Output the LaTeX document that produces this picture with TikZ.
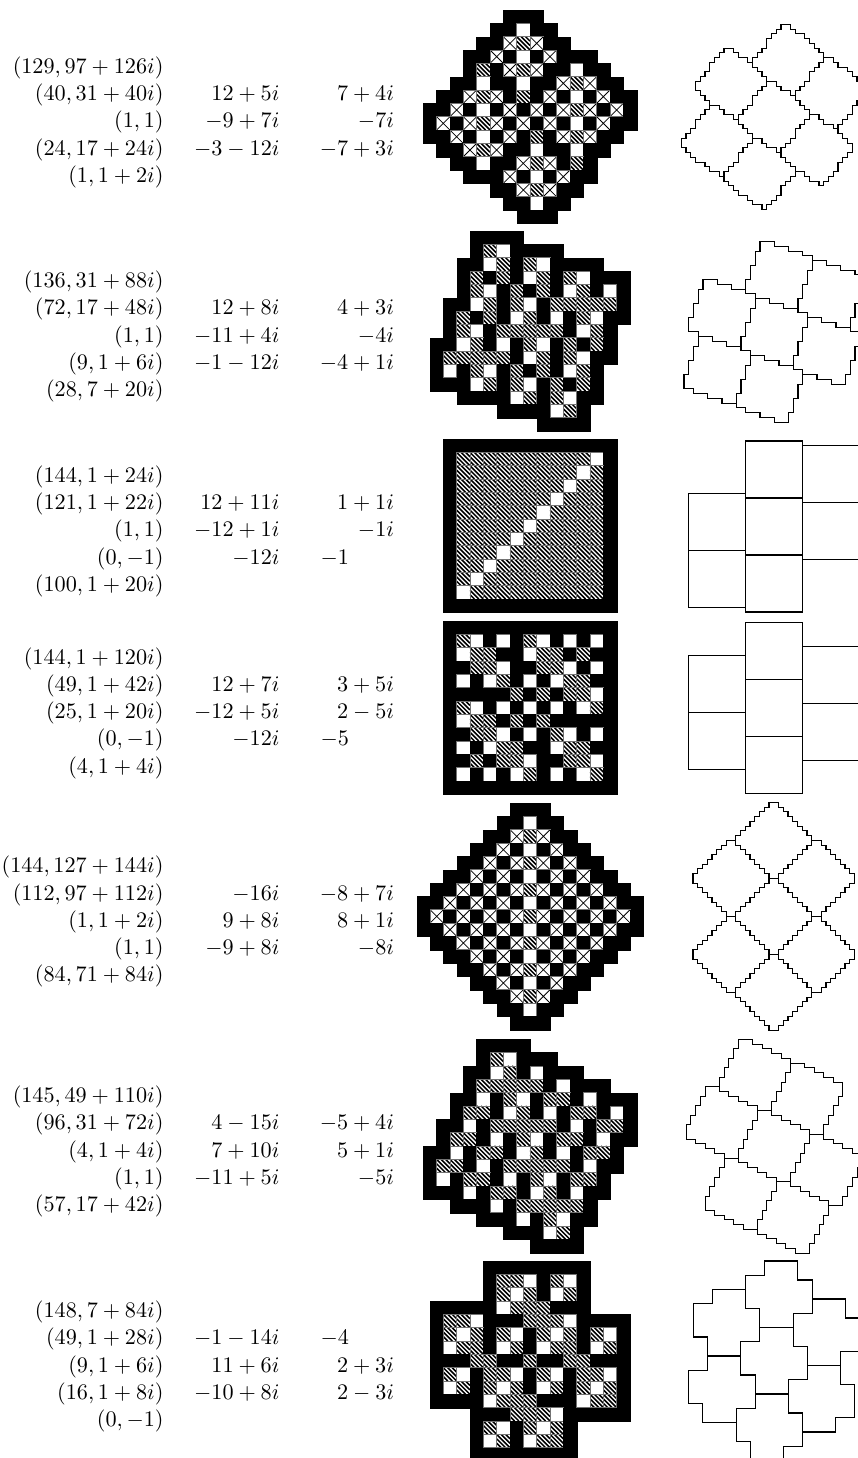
\documentclass[tikz,border=0pt]{standalone}
\tikzset{
  pagebox/.style={x=1pt,y=-1pt},
  lab/.style={scale=2.22,inner sep=0pt,outer sep=0pt},
  blackcell/.style={fill=black,draw=black,line width=.3pt},
  whitecell/.style={fill=white},
  cellrim/.style={draw=black!55,line width=.7pt},
  hatchline/.style={line width=1.55pt,black},
  crossline/.style={line width=.75pt,black}
}
% ---------- grid cells
\newcount\cx
\expandafter\let\csname cello\endcsname\relax
\expandafter\def\csname cellb\endcsname{\path[blackcell] (\the\cx,\ri) rectangle ++(1,1);}
\expandafter\def\csname cellw\endcsname{\path[whitecell] (\the\cx,\ri) rectangle ++(1,1);
  \path[cellrim] (\the\cx,\ri) rectangle ++(1,1);}
\expandafter\def\csname cellh\endcsname{\begin{scope}[shift={(\the\cx,\ri)}]
  \path[whitecell] (0,0) rectangle (1,1);
  \begin{scope}\clip (0,0) rectangle (1,1);
  \draw[hatchline] (0,0)--(1,1) (.3333,0)--(1,.6667) (.6667,0)--(1,.3333)
     (0,.3333)--(.6667,1) (0,.6667)--(.3333,1);
  \end{scope}
  \path[cellrim] (0,0) rectangle (1,1);\end{scope}}
\expandafter\def\csname cellx\endcsname{\begin{scope}[shift={(\the\cx,\ri)}]
  \path[whitecell] (0,0) rectangle (1,1);
  \draw[crossline] (0,0)--(1,1) (1,0)--(0,1);
  \path[cellrim] (0,0) rectangle (1,1);\end{scope}}
\def\cellloop#1{\ifx#1;\else\csname cell#1\endcsname\advance\cx by 1 \expandafter\cellloop\fi}
\newcommand{\gridat}[3]{\begin{scope}[shift={(#1,#2)},x=13.335pt,y=-13.335pt]
  \foreach \rowstr [count=\ri from 0] in {#3}{\cx=0 \expandafter\cellloop\rowstr;}
  \end{scope}}
% ---------- tiles
\newdimen\tx \newdimen\ty
\def\mvR{\advance\tx by 4.75pt }
\def\mvL{\advance\tx by -4.75pt }
\def\mvD{\advance\ty by -4.75pt }
\def\mvU{\advance\ty by 4.75pt }
\def\wk#1{\ifx#1.\else\csname mv#1\endcsname\pgfpathlineto{\pgfqpoint{\tx}{\ty}}\expandafter\wk\fi}
\def\invc#1{\ifx#1RL\else\ifx#1LR\else\ifx#1UD\else\ifx#1DU\fi\fi\fi\fi}
\def\xrev#1{\ifx#1.\else\edef\myout{\invc#1\myout}\expandafter\xrev\fi}
\def\rvw#1{\edef\myout{}\xrev#1.}
\newcommand{\settile}[5]{\def\ax{#1}\def\ay{#2}\def\wordp{#3}\def\wordq{#4}\def\wordr{#5}%
  \rvw{#3}\let\wordpr\myout\rvw{#4}\let\wordqr\myout\rvw{#5}\let\wordrr\myout}
\newcommand{\tileat}[2]{\begin{pgfscope}\pgfsetlinewidth{1.05pt}%
  \tx=\dimexpr\ax pt+4.75pt*#1\relax \ty=\dimexpr-\ay pt-4.75pt*#2\relax
  \pgfpathmoveto{\pgfqpoint{\tx}{\ty}}%
  \expandafter\wk\wordp.\expandafter\wk\wordq.\expandafter\wk\wordr.%
  \expandafter\wk\wordpr.\expandafter\wk\wordqr.\expandafter\wk\wordrr.%
  \pgfpathclose\pgfusepath{stroke}\end{pgfscope}}
% ---------- labels
\newcommand{\labR}[4]{\node[lab,anchor=base east] (#1) at (#2,#3) {$#4$};}
\newcommand{\labL}[4]{\node[lab,anchor=base west] (#1) at (#2,#3) {$#4$};}
\def\colA{163.5}\def\colB{279.5}\def\colC{394}\def\colD{320.7}
\begin{document}
\begin{tikzpicture}[pagebox]
\useasboundingbox (0,0) rectangle (857,1458);
% ======= row 1
\gridat{423.3}{10}{oooooobbbooooooo,ooooobbwbboooooo,oooobbxhxbbooooo,ooobbxbwbxbbbooo,ooobhbxhxbbwbboo,oobbwbbwbbxhxbbo,obbxhxbhbxbwbxbb,bbxbwbxbxbxhxbxb,bxbxhxbxbxbwbxbb,bbxbwbxbhbxhxbbo,obbxhxbbwbbwbboo,oobbwbbxhxbhbooo,ooobbbxbwbxbbooo,ooooobbxhxbboooo,oooooobbwbbooooo,ooooooobbboooooo}
\settile{781}{24.3}{RRDRDRRDR}{DRDRDRD}{DLDLDLDDLDLDLD}
\tileat{0}{0}\tileat{9}{7}\tileat{-12}{5}\tileat{-3}{12}\tileat{6}{19}\tileat{-15}{17}\tileat{-6}{24}
\def\bs{73.2}
\labR{a1}{\colA}{\bs}{(129,97+126i)}
\labR{a2}{\colA}{\bs+27.3}{(40,31+40i)}
\labR{a3}{\colA}{\bs+54.6}{(1,1)}
\labR{a4}{\colA}{\bs+81.9}{(24,17+24i)}
\labR{a5}{\colA}{\bs+109.2}{(1,1+2i)}
\labR{a6}{\colB}{\bs+27.3}{12+5i}
\labR{a7}{\colB}{\bs+54.6}{-9+7i}
\labR{a8}{\colB}{\bs+81.9}{-3-12i}
\labR{a9}{\colC}{\bs+27.3}{7+4i}
\labR{a10}{\colC}{\bs+54.6}{-7i}
\labR{a11}{\colC}{\bs+81.9}{-7+3i}
% ======= row 2
\gridat{430}{231}{ooobbbboooooooo,ooobhwbbbbooooo,oobbwhbhwbbbboo,oobhbhbwhbhwbbb,oobhwbhbhbwhbwb,obbwhbhwbhhhhhb,obhbhbwhbwbhwbb,obhwbhhhhhbwhbo,bbwhbwbhwbhbhbo,bhhhhhbwhbhwbbo,bwbhwbhbhbwhboo,bbbwhbhwbhbhboo,oobbbbwhbhwbboo,ooooobbbbwhbooo,oooooooobbbbooo}
\settile{760}{241.7}{RRRDRRRDRRR}{DRRD}{DDLDDDLDDDLDD}
\tileat{0}{0}\tileat{-1}{12}\tileat{-2}{24}\tileat{11}{4}\tileat{10}{16}\tileat{-12}{8}\tileat{-13}{20}
\def\bs{287.4}
\labR{b1}{\colA}{\bs}{(136,31+88i)}
\labR{b2}{\colA}{\bs+27.3}{(72,17+48i)}
\labR{b3}{\colA}{\bs+54.6}{(1,1)}
\labR{b4}{\colA}{\bs+81.9}{(9,1+6i)}
\labR{b5}{\colA}{\bs+109.2}{(28,7+20i)}
\labR{b6}{\colB}{\bs+27.3}{12+8i}
\labR{b7}{\colB}{\bs+54.6}{-11+4i}
\labR{b8}{\colB}{\bs+81.9}{-1-12i}
\labR{b9}{\colC}{\bs+27.3}{4+3i}
\labR{b10}{\colC}{\bs+54.6}{-4i}
\labR{b11}{\colC}{\bs+81.9}{-4+1i}
% ======= row 3
\gridat{443.3}{439}{bbbbbbbbbbbbb,bhhhhhhhhhhwb,bhhhhhhhhhwhb,bhhhhhhhhwhhb,bhhhhhhhwhhhb,bhhhhhhwhhhhb,bhhhhhwhhhhhb,bhhhhwhhhhhhb,bhhhwhhhhhhhb,bhhwhhhhhhhhb,bhwhhhhhhhhhb,bwhhhhhhhhhhb,bbbbbbbbbbbbb}
\settile{745.3}{441}{RRRRRRRRRRRR}{}{DDDDDDDDDDDD}
\tileat{0}{0}\tileat{0}{12}\tileat{0}{24}\tileat{12}{1}\tileat{12}{13}\tileat{-12}{11}\tileat{-12}{23}
\def\bs{482.1}
\labR{c1}{\colA}{\bs}{(144,1+24i)}
\labR{c2}{\colA}{\bs+27.3}{(121,1+22i)}
\labR{c3}{\colA}{\bs+54.6}{(1,1)}
\labR{c4}{\colA}{\bs+81.9}{(0,-1)}
\labR{c5}{\colA}{\bs+109.2}{(100,1+20i)}
\labR{c6}{\colB}{\bs+27.3}{12+11i}
\labR{c7}{\colB}{\bs+54.6}{-12+1i}
\labR{c8}{\colB}{\bs+81.9}{-12i}
\labR{c9}{\colC}{\bs+27.3}{1+1i}
\labR{c10}{\colC}{\bs+54.6}{-1i}
\labL{c11}{\colD}{\bs+81.9}{-1}
% ======= row 4
\gridat{443.3}{621}{bbbbbbbbbbbbb,bhwbwbhwbwbwb,bwhhbbwhhbhbb,bbhhwbbhhwbwb,bwbwhbwbwhhbb,bbbbbhbhbhhwb,bhwbwbwbwbwhb,bwhhbhbhbbbbb,bbhhwbwbhwbwb,bwbwhhbbwhhbb,bbhbhhwbbhhwb,bwbwbwhbwbwhb,bbbbbbbbbbbbb}
\settile{745.3}{622.3}{RRRRRRRRRRRR}{}{DDDDDDDDDDDD}
\tileat{0}{0}\tileat{0}{12}\tileat{0}{24}\tileat{12}{5}\tileat{12}{17}\tileat{-12}{7}\tileat{-12}{19}
\def\bs{664}
\labR{d1}{\colA}{\bs}{(144,1+120i)}
\labR{d2}{\colA}{\bs+27.3}{(49,1+42i)}
\labR{d3}{\colA}{\bs+54.6}{(25,1+20i)}
\labR{d4}{\colA}{\bs+81.9}{(0,-1)}
\labR{d5}{\colA}{\bs+109.2}{(4,1+4i)}
\labR{d6}{\colB}{\bs+27.3}{12+7i}
\labR{d7}{\colB}{\bs+54.6}{-12+5i}
\labR{d8}{\colB}{\bs+81.9}{-12i}
\labR{d9}{\colC}{\bs+27.3}{3+5i}
\labR{d10}{\colC}{\bs+54.6}{2-5i}
\labL{d11}{\colD}{\bs+81.9}{-5}
% ======= row 5
\gridat{416.7}{803}{ooooooobbbooooooo,oooooobbwbboooooo,ooooobbxhxbbooooo,oooobbxbwbxbboooo,ooobbxbxhxbxbbooo,oobbxbxbwbxbxbboo,obbxbxbxhxbxbxbbo,bbxbxbxbwbxbxbxbb,bxbxbxbxhxbxbxbxb,bbxbxbxbwbxbxbxbb,obbxbxbxhxbxbxbbo,oobbxbxbwbxbxbboo,ooobbxbxhxbxbbooo,oooobbxbwbxbboooo,ooooobbxhxbbooooo,oooooobbwbboooooo,ooooooobbbooooooo}
\settile{769}{802.3}{RR}{DRDRDRDRDRDRDRD}{DLDLDLDLDLDLDLD}
\tileat{0}{0}\tileat{0}{16}\tileat{0}{32}\tileat{9}{8}\tileat{9}{24}\tileat{-9}{8}\tileat{-9}{24}
\def\bs{872.7}
\labR{e1}{\colA}{\bs}{(144,127+144i)}
\labR{e2}{\colA}{\bs+27.3}{(112,97+112i)}
\labR{e3}{\colA}{\bs+54.6}{(1,1+2i)}
\labR{e4}{\colA}{\bs+81.9}{(1,1)}
\labR{e5}{\colA}{\bs+109.2}{(84,71+84i)}
\labR{e6}{\colB}{\bs+27.3}{-16i}
\labR{e7}{\colB}{\bs+54.6}{9+8i}
\labR{e8}{\colB}{\bs+81.9}{-9+8i}
\labR{e9}{\colC}{\bs+27.3}{-8+7i}
\labR{e10}{\colC}{\bs+54.6}{8+1i}
\labR{e11}{\colC}{\bs+81.9}{-8i}
% ======= row 6
\gridat{423.3}{1039.3}{oooobbbboooooooo,oooobhwbbboooooo,ooobbwhbwbbboooo,ooobhhhhhbwbbboo,oobbwbhwbhhbwbbb,oobhhbwhbwbhhbwb,obbwbhhhhhbwbhhb,obhhbwbhwbhhbwbb,bbwbhhbwhbwbhhbo,bhhbwbhhhhhbwbbo,bwbhhbwbhwbhhboo,bbbwbhhbwhbwbboo,oobbbwbhhhhhbooo,oooobbbwbhwbbooo,oooooobbbwhboooo,oooooooobbbboooo}
\settile{738.3}{1039.3}{RRR}{DRRDRRDRRDRRD}{DDLDDLDDLDDLDD}
\tileat{0}{0}\tileat{4}{15}\tileat{8}{30}\tileat{11}{5}\tileat{15}{20}\tileat{-7}{10}\tileat{-3}{25}
\def\bs{1102.4}
\labR{f1}{\colA}{\bs}{(145,49+110i)}
\labR{f2}{\colA}{\bs+27.3}{(96,31+72i)}
\labR{f3}{\colA}{\bs+54.6}{(4,1+4i)}
\labR{f4}{\colA}{\bs+81.9}{(1,1)}
\labR{f5}{\colA}{\bs+109.2}{(57,17+42i)}
\labR{f6}{\colB}{\bs+27.3}{4-15i}
\labR{f7}{\colB}{\bs+54.6}{7+10i}
\labR{f8}{\colB}{\bs+81.9}{-11+5i}
\labR{f9}{\colC}{\bs+27.3}{-5+4i}
\labR{f10}{\colC}{\bs+54.6}{5+1i}
\labR{f11}{\colC}{\bs+81.9}{-5i}
% ======= row 7
\gridat{430}{1261}{oooobbbbbbbbooo,oooobhhwbhwbooo,oooobhwhbwhbooo,bbbbbwhhhbbbooo,bhhwbbbhhhwbbbb,bhwhbhwbhwhbhwb,bwhhbwhbwhhbwhb,bbbhhbbhbbhhbbb,bhwbhhwbhwbhhwb,bwhbhwhbwhbhwhb,bbbbwhhhbbbwhhb,ooobbbhhhwbbbbb,ooobhwbhwhboooo,ooobwhbwhhboooo,ooobbbbbbbboooo}
\settile{764.7}{1261}{RRRRRRR}{DDDDRRRDDDD}{DDDLLLLDDD}
\tileat{0}{0}\tileat{-1}{14}\tileat{-2}{28}\tileat{10}{8}\tileat{9}{22}\tileat{-11}{6}\tileat{-12}{20}
\def\bs{1317.4}
\labR{g1}{\colA}{\bs}{(148,7+84i)}
\labR{g2}{\colA}{\bs+27.3}{(49,1+28i)}
\labR{g3}{\colA}{\bs+54.6}{(9,1+6i)}
\labR{g4}{\colA}{\bs+81.9}{(16,1+8i)}
\labR{g5}{\colA}{\bs+109.2}{(0,-1)}
\labR{g6}{\colB}{\bs+27.3}{-1-14i}
\labR{g7}{\colB}{\bs+54.6}{11+6i}
\labR{g8}{\colB}{\bs+81.9}{-10+8i}
\labL{g9}{\colD}{\bs+27.3}{-4}
\labR{g10}{\colC}{\bs+54.6}{2+3i}
\labR{g11}{\colC}{\bs+81.9}{2-3i}
\end{tikzpicture}
\end{document}
